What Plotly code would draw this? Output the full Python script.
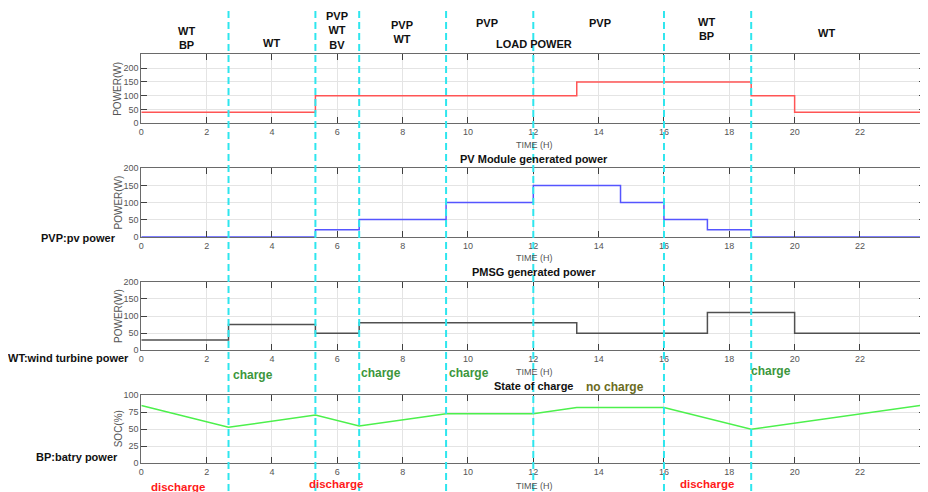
import plotly.graph_objects as go

# ---------------- data ----------------
hour_ticks = list(range(0, 25, 2))
boundaries = [2.67, 5.33, 6.67, 9.33, 12, 16, 18.67]

load_t = [0, 5.33, 13.33, 18.67, 20, 24]
load_p = [40, 100, 150, 100, 40, 40]

pv_t = [0, 5.33, 6.67, 9.33, 12, 14.67, 16, 17.33, 18.67, 24]
pv_p = [0, 20, 50, 100, 150, 100, 50, 20, 0, 0]

wt_t = [0, 2.67, 5.33, 6.67, 13.33, 17.33, 20, 24]
wt_p = [30, 75, 50, 80, 50, 110, 50, 50]

soc_t = [0, 2.67, 5.33, 6.67, 9.33, 12, 13.33, 16, 18.67, 24]
soc_v = [85, 53, 71, 55, 73, 73, 82, 82, 50, 86]

power_ticks = [0, 50, 100, 150, 200]
soc_ticks = [0, 25, 50, 75, 100]

titles = ["LOAD POWER", "PV Module generated power", "PMSG generated power", "State of charge"]
source_labels = ["WT<br>BP", "WT", "PVP<br>WT<br>BV", "PVP<br>WT", "PVP", "PVP", "WT<br>BP", "WT"]
side_labels = ["PVP:pv power", "WT:wind turbine power", "BP:batry power"]
charge_labels = ["charge", "charge", "charge", "charge"]
discharge_labels = ["discharge", "discharge", "discharge"]
nocharge_label = "no charge"

# ---------------- layout helpers ----------------
# the page body has an 8px default margin, so the figure starts 8px in
OFF = 8
W, H = 928 - OFF, 492 - OFF
def px(x):
    return (x - OFF) / W
def py(y):
    return 1 - (y - OFF) / H

x_dom = [px(141.3), px(925.3)]
y_doms = [
    [py(123.3), py(54.3)],
    [py(236.7), py(168.3)],
    [py(350.3), py(281.7)],
    [py(463.3), py(395.3)],
]

fig = go.Figure()

fig.add_trace(go.Scatter(x=load_t, y=load_p, mode="lines", line=dict(color="#ff5555", width=1.5, shape="hv"),
                         xaxis="x", yaxis="y", showlegend=False))
fig.add_trace(go.Scatter(x=pv_t, y=pv_p, mode="lines", line=dict(color="#5555ff", width=1.5, shape="hv"),
                         xaxis="x2", yaxis="y2", showlegend=False))
fig.add_trace(go.Scatter(x=wt_t, y=wt_p, mode="lines", line=dict(color="#505050", width=1.5, shape="hv"),
                         xaxis="x3", yaxis="y3", showlegend=False))
fig.add_trace(go.Scatter(x=soc_t, y=soc_v, mode="lines", line=dict(color="#4cf04c", width=1.5),
                         xaxis="x4", yaxis="y4", showlegend=False))

axis_common = dict(
    showline=True, linecolor="#6a6a6a", linewidth=1, mirror="ticks",
    ticks="inside", ticklen=6, tickcolor="#404040", tickwidth=1,
    showgrid=True, gridcolor="#e4e4e4", gridwidth=1, zeroline=False,
    automargin=False,
    tickfont=dict(family="Liberation Sans", size=9, color="#555555"),
)

layout_axes = {}
for i in range(4):
    sx = "xaxis" if i == 0 else f"xaxis{i+1}"
    sy = "yaxis" if i == 0 else f"yaxis{i+1}"
    layout_axes[sx] = dict(axis_common, domain=x_dom, range=[0, 24], tickvals=hour_ticks,
                           anchor="y" if i == 0 else f"y{i+1}", ticklabeloverflow="allow")
    if i == 0:
        yr, yt = [0, 250], power_ticks
    elif i < 3:
        yr, yt = [0, 200], power_ticks
    else:
        yr, yt = [0, 100], soc_ticks
    layout_axes[sy] = dict(axis_common, domain=y_doms[i], range=yr, tickvals=yt,
                           anchor="x" if i == 0 else f"x{i+1}")

fig.update_layout(**layout_axes)

annotations = []
def ann(x, y, text, size=11, color="#111111", family="Liberation Sans", bold=True, angle=0):
    t = f"<b>{text}</b>" if bold else text
    annotations.append(dict(x=px(x), y=py(y), xref="paper", yref="paper", text=t, showarrow=False,
                            xanchor="center", yanchor="middle", textangle=angle,
                            font=dict(family=family, size=size, color=color)))

# source labels above the top panel
src_pos = [(186, 38.3), (271, 43.3), (337, 30.8), (402, 32), (487, 22.7), (600, 22.7), (706.7, 28.7), (826.7, 33.3)]
for (x, y), t in zip(src_pos, source_labels):
    ann(x, y, t, size=11)

# panel titles
title_y = [44.3, 159, 272, 386]
for t, y in zip(titles, title_y):
    ann(533.5, y, t, size=11)

# x axis titles
for y in [144.7, 258.3, 371.7, 485.7]:
    ann(534, y, "TIME (H)", size=9, color="#555555", bold=False)

# y axis titles
ann(118, 88.8, "POWER(W)", size=10, color="#555555", bold=False, angle=-90)
ann(118, 202.5, "POWER(W)", size=10, color="#555555", bold=False, angle=-90)
ann(118, 316, "POWER(W)", size=10, color="#555555", bold=False, angle=-90)
ann(118, 429.3, "SOC(%)", size=10, color="#555555", bold=False, angle=-90)

# side labels
for (x, y), t in zip([(78.3, 238.3), (68.8, 358.3), (77.2, 457.3)], side_labels):
    ann(x, y, t, size=11, color="#111111")

# charge labels
for (x, y), t in zip([(253, 375), (380.7, 373.3), (468.7, 373.3), (770.8, 371)], charge_labels):
    ann(x, y, t, size=12, color="#3c963c")
ann(615, 386.7, nocharge_label, size=12, color="#6b6b1e")
for (x, y), t in zip([(177.8, 487.3), (335.5, 484), (706.8, 484)], discharge_labels):
    ann(x, y, t, size=11.5, color="#ff1a1a")

shapes = []
for b in boundaries:
    shapes.append(dict(type="line", xref="x", yref="paper", x0=b, x1=b, y0=py(491), y1=py(8),
                       line=dict(color="#2ee6ee", width=2, dash="7px,4px"), layer="above"))

fig.update_layout(
    width=W, height=H, margin=dict(l=0, r=0, t=0, b=0, autoexpand=False),
    paper_bgcolor="white", plot_bgcolor="white",
    annotations=annotations, shapes=shapes, showlegend=False,
)

fig.write_html("out.html")
